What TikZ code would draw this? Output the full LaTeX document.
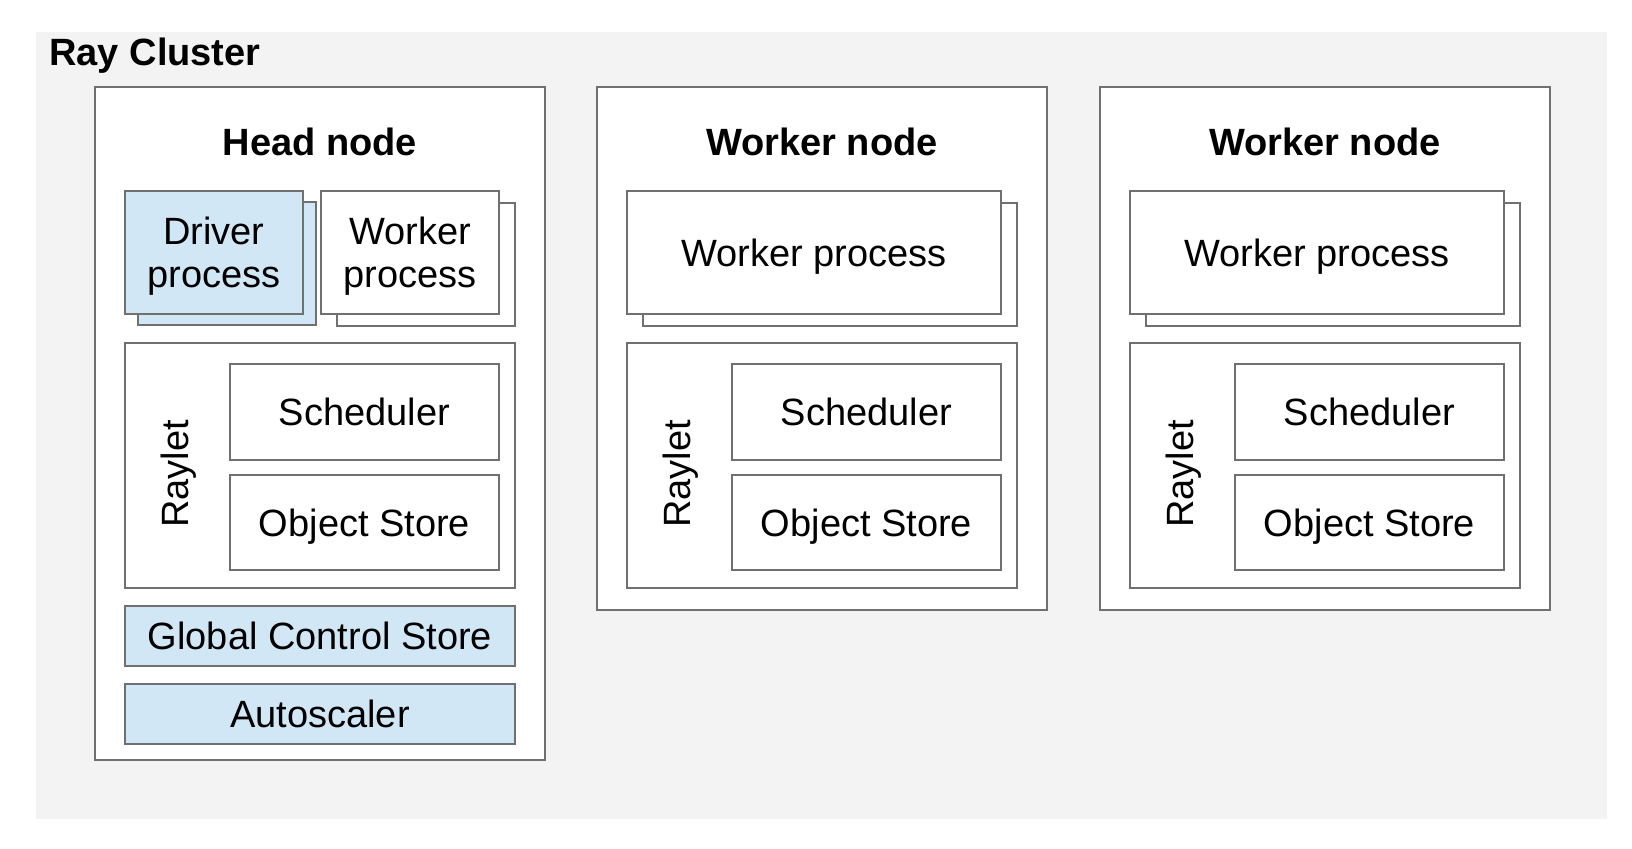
\documentclass[tikz,border=0pt]{standalone}
\usepackage{fontspec}
\setmainfont{Liberation Sans}
\usepackage{tikz}
\definecolor{bggray}{HTML}{F3F3F3}
\definecolor{edgegray}{HTML}{707070}
\definecolor{lblue}{HTML}{D2E7F5}
\tikzset{
    box/.style={draw=edgegray,fill=white,line width=1pt,inner sep=0pt,align=center,
        text depth=0pt,font=\fontsize{19}{21.5}\selectfont},
    bluebox/.style={box,fill=lblue},
    hostbox/.style={box,minimum width=225pt},
    procbox/.style={box,minimum height=61.5pt},
    rayletbox/.style={box,minimum width=195pt,minimum height=122.5pt},
    compbox/.style={box,minimum width=134.5pt},
    wide/.style={minimum width=195pt,minimum height=30pt},
    title/.style={inner sep=0pt,anchor=base,font=\fontsize{19}{21.5}\selectfont\bfseries},
    tt/.style={inner sep=0pt,anchor=base,font=\fontsize{19}{21.5}\selectfont},
}
\begin{document}
\begin{tikzpicture}[x=0.5pt,y=-0.5pt]
\useasboundingbox (0,0) rectangle (1632,848);
\fill[bggray] (36,32) rectangle (1607,819);
\node[title,anchor=base west] (cl) at (49,65) {Ray Cluster};
% head node
\node[hostbox,minimum height=336.5pt] (head) at (320,423.5) {};
\node[title] (headt) at (320,155) {Head node};
\node[procbox,bluebox,minimum width=89pt] (drvs) at (227,263.5) {};
\node[procbox,bluebox,minimum width=89pt] (drv) at (214,252.5) {Driver\\process};
\node[procbox,minimum width=89pt] (hwps) at (426,264.5) {};
\node[procbox,minimum width=89pt] (hwp) at (410,252.5) {Worker\\process};
\node[rayletbox] (hrl) at (320,465.5) {};
\node[tt,rotate=90] (hrlt) at (188,474) {Raylet};
\node[compbox,minimum height=48pt] (hsch) at (364.5,412) {Scheduler};
\node[compbox,minimum height=47.5pt] (hos) at (364.5,522.5) {Object Store};
\node[bluebox,wide] (gcs) at (320,636) {Global Control Store};
\node[bluebox,wide] (auto) at (320,714) {Autoscaler};
% worker node 1
\node[hostbox,minimum height=261.5pt] (wa) at (822,348.5) {};
\node[title] (wat) at (822,155) {Worker node};
\node[procbox,minimum width=187pt] (waps) at (830,264.5) {};
\node[procbox,minimum width=187pt] (wap) at (814,252.5) {Worker process};
\node[rayletbox] (warl) at (822,465.5) {};
\node[tt,rotate=90] (warlt) at (690,474) {Raylet};
\node[compbox,minimum height=48pt] (wasch) at (866.5,412) {Scheduler};
\node[compbox,minimum height=47.5pt] (waos) at (866.5,522.5) {Object Store};
% worker node 2
\node[hostbox,minimum height=261.5pt] (wb) at (1325,348.5) {};
\node[title] (wbt) at (1325,155) {Worker node};
\node[procbox,minimum width=187pt] (wbps) at (1333,264.5) {};
\node[procbox,minimum width=187pt] (wbp) at (1317,252.5) {Worker process};
\node[rayletbox] (wbrl) at (1325,465.5) {};
\node[tt,rotate=90] (wbrlt) at (1193,474) {Raylet};
\node[compbox,minimum height=48pt] (wbsch) at (1369.5,412) {Scheduler};
\node[compbox,minimum height=47.5pt] (wbos) at (1369.5,522.5) {Object Store};
\end{tikzpicture}
\end{document}
